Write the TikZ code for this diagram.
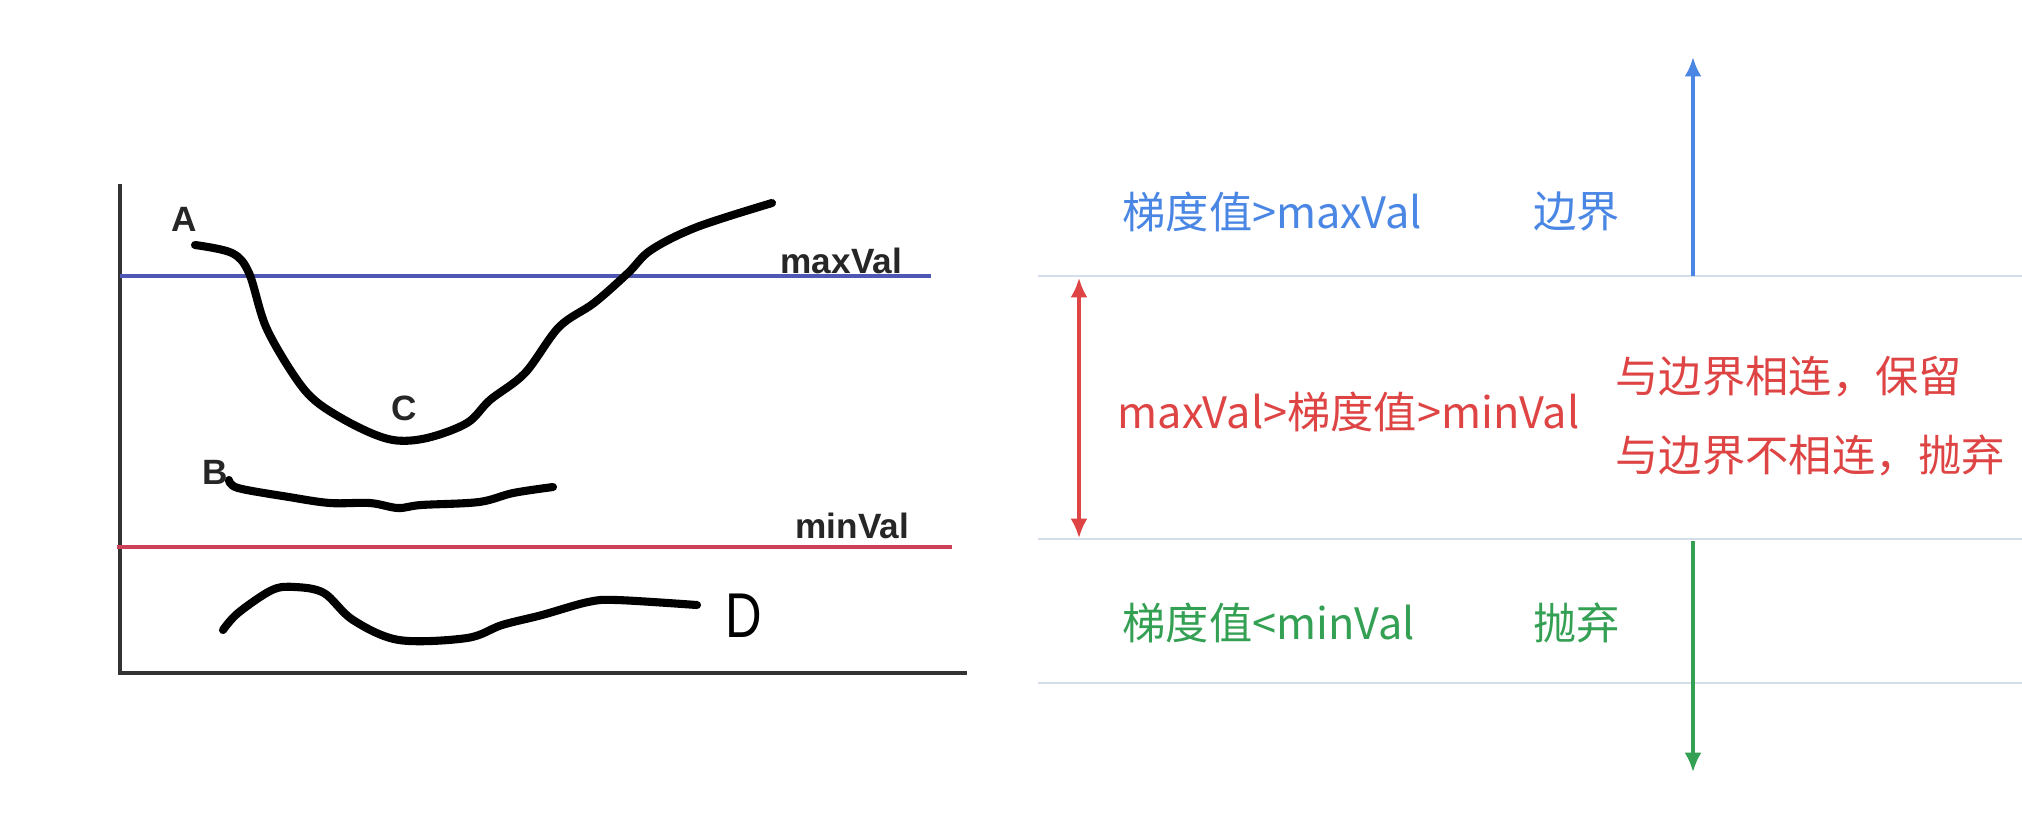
\documentclass[tikz,border=0pt]{standalone}
\usepackage{fontspec}
\usepackage{graphicx}
\usepackage{tikz}
\usetikzlibrary{arrows.meta,positioning}
\newfontfamily\cjk{Noto Sans CJK SC}
\newfontfamily\lblfont{Liberation Sans}
\definecolor{hiblue}{RGB}{74,134,228}
\definecolor{midred}{RGB}{222,68,68}
\definecolor{logreen}{RGB}{52,160,84}
\definecolor{maxline}{RGB}{78,88,178}
\definecolor{minline}{RGB}{204,64,88}
\definecolor{bandgray}{RGB}{212,222,234}
\newcommand{\narrowlbl}[1]{\scalebox{0.8}[1]{#1}}

\begin{document}
\begin{tikzpicture}[x=0.01cm,y=-0.01cm,
  >={Latex[length=5.5pt,width=4.8pt]},
  stroke/.style={line width=2.3pt,line cap=round,line join=round},
  axis/.style={line width=0.9pt,black!80},
  bandline/.style={line width=0.8pt,bandgray},
  tag/.style={font=\cjk\fontsize{12.3}{14}\selectfont,inner sep=0pt},
  chartlbl/.style={font=\lblfont\bfseries\fontsize{10}{12}\selectfont,text=black!85,inner sep=0pt}]
\useasboundingbox (0,0) rectangle (2022,832);
\fill[white] (0,0) rectangle (2022,832);

\draw[axis] (120,184) -- (120,673) -- (967,673);
\draw[maxline,line width=0.9pt] (120,276) -- (931,276);
\draw[minline,line width=0.9pt] (117,547) -- (952,547);
\node[chartlbl,anchor=base west] (lblmax) at (780,273) {maxVal};
\node[chartlbl,anchor=base west] (lblmin) at (795,538) {minVal};

\draw[stroke] plot[smooth,tension=0.55] coordinates {(195,245) (232,253) (249,273) (266,327) (295,377) (318,403) (358,427) (393,440) (427,438) (467,423) (490,400) (525,373) (559,327) (594,303) (628,273) (651,250) (697,227) (772,203)};
\draw[stroke] plot[smooth,tension=0.55] coordinates {(229,480) (238,488) (289,497) (330,503) (370,503) (398,508) (421,505) (479,502) (513,493) (553,487)};
\draw[stroke] plot[smooth,tension=0.55] coordinates {(223,630) (238,613) (272,590) (295,587) (324,593) (353,620) (399,640) (467,638) (502,625) (542,615) (588,602) (617,600) (697,605)};
\node[chartlbl] (la) at (184,219) {A};
\node[chartlbl] (lb) at (215,472) {B};
\node[chartlbl] (lc) at (404,408) {C};
\node[font=\lblfont\fontsize{18}{20}\selectfont,inner sep=0pt] (ld) at (744,616) {\narrowlbl{D}};

\draw[bandline] (1038,276) -- (2022,276);
\draw[bandline] (1038,539) -- (2022,539);
\draw[bandline] (1038,683) -- (2022,683);

\coordinate (bluebase) at (1693,276);
\coordinate (bluetop) at (1693,57);
\coordinate (redtop) at (1079,278);
\coordinate (redbot) at (1079,538);
\coordinate (greenbase) at (1693,541);
\coordinate (greenend) at (1693,772);
\draw[->,hiblue,line width=1pt] (bluebase) -- (bluetop);
\draw[<->,midred,line width=0.9pt] (redtop) -- (redbot);
\draw[->,logreen,line width=0.9pt] (greenbase) -- (greenend);

\node[tag,hiblue,anchor=west] (hicond) at (1122,212) {梯度值>maxVal};
\node[tag,hiblue,anchor=west] (hiact) at (1533,212) {边界};
\node[tag,midred,anchor=west] (midcond) at (1117,412) {maxVal>梯度值>minVal};
\node[tag,midred,anchor=west] (keep) at (1615,377) {与边界相连，保留};
\node[tag,midred,anchor=west] (drop) at (1615,455) {与边界不相连，抛弃};
\node[tag,logreen,anchor=west] (locond) at (1122,623) {梯度值<minVal};
\node[tag,logreen,anchor=west] (loact) at (1533,623) {抛弃};
\end{tikzpicture}
\end{document}
